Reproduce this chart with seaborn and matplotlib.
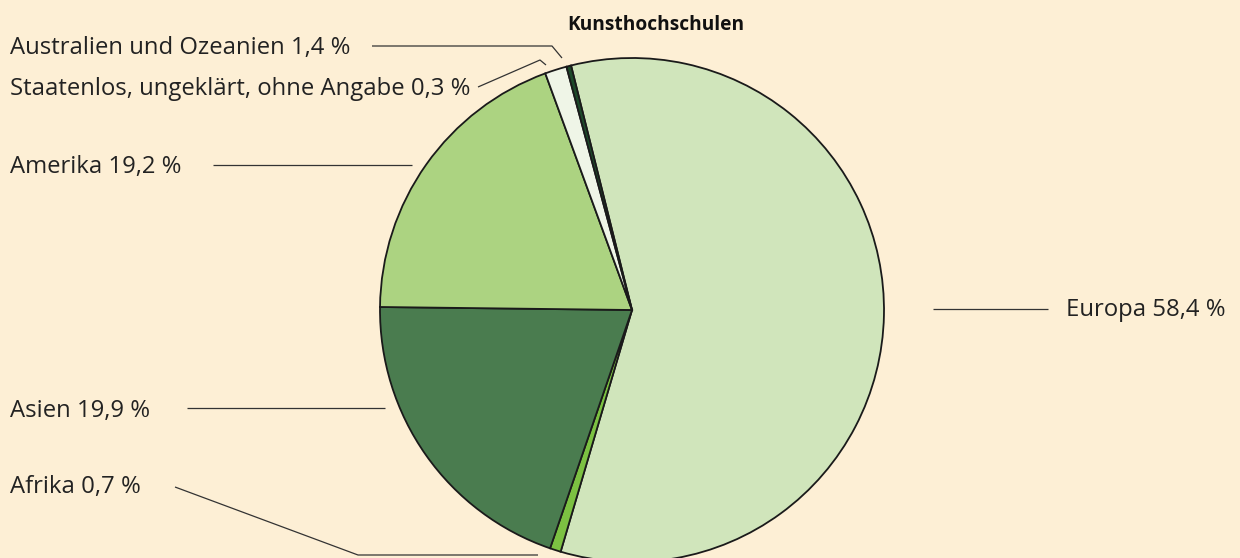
import matplotlib
matplotlib.use("Agg")
import matplotlib.pyplot as plt
import seaborn as sns

# Data (shares in percent), clockwise from the top
regions = ["Europa", "Afrika", "Asien", "Amerika",
           "Australien und Ozeanien", "Staatenlos, ungeklärt, ohne Angabe"]
shares = [58.4, 0.7, 19.9, 19.2, 1.4, 0.3]
share_labels = ["58,4", "0,7", "19,9", "19,2", "1,4", "0,3"]
title = "Kunsthochschulen"

colors = ["#d0e5bb", "#7cc142", "#4a7c4f", "#acd381", "#eff5e7", "#1d4a2a"]
bg = "#fdefd5"

sns.set_theme(style="white")
plt.rcParams["font.family"] = ["Open Sans", "DejaVu Sans"]

W, H = 1240, 558
fig = plt.figure(figsize=(W / 100, H / 100), dpi=100, facecolor=bg)
ax = fig.add_axes([0, 0, 1, 1])
ax.set_facecolor(bg)

# pie in pixel-like coordinates (y measured from the bottom)
cx, cy, r = 632, H - 310, 252
ax.pie(shares, colors=colors, startangle=104, counterclock=False,
       center=(cx, cy), radius=r, normalize=True,
       wedgeprops=dict(edgecolor="#1a1a1a", linewidth=1.3))
ax.set_xlim(0, W)
ax.set_ylim(0, H)
ax.set_aspect("equal")
ax.axis("off")

def py(y):
    return H - y

label_text = {reg: f"{reg} {val} %" for reg, val in zip(regions, share_labels)}

# label positions (left x / y centre) and leader lines in pixel coords
layout = {
    "Australien und Ozeanien": ((10, 48), [(372, 46), (552, 46), (562, 58)]),
    "Staatenlos, ungeklärt, ohne Angabe": ((10, 89), [(478, 87), (540, 60), (546, 65)]),
    "Amerika": ((10, 167), [(213, 165), (412, 165)]),
    "Asien": ((10, 411), [(187, 408), (385, 408)]),
    "Afrika": ((10, 487), [(175, 487), (358, 555), (538, 555)]),
    "Europa": ((1066, 310), [(933, 309), (1048, 309)]),
}

for reg, ((tx, ty), pts) in layout.items():
    ax.text(tx, py(ty), label_text[reg], ha="left", va="center",
            fontsize=17.2, color="#222222")
    xs = [p[0] for p in pts]
    ys = [py(p[1]) for p in pts]
    ax.plot(xs, ys, color="#333333", linewidth=0.9, solid_capstyle="butt")

ax.text(656, py(25), title, ha="center", va="center", fontsize=13.8,
        fontweight="bold", color="#111111")

fig.savefig("out.png", dpi=100, facecolor=bg)
